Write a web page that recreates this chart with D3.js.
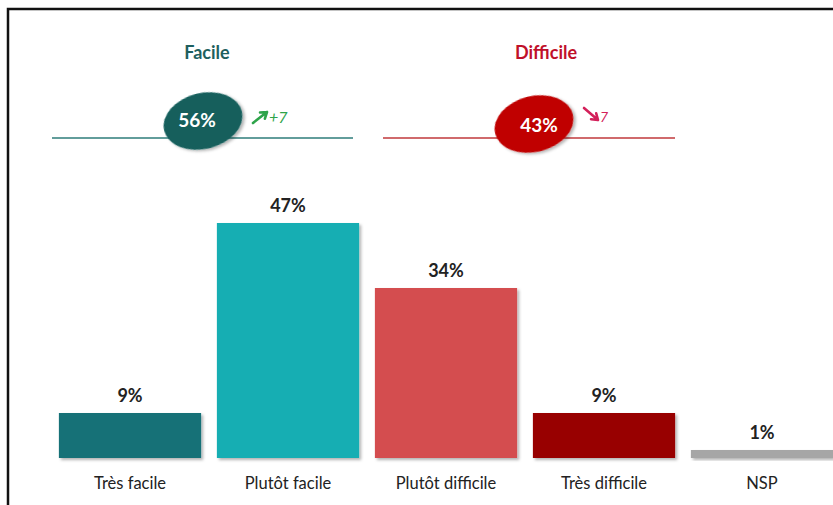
<!DOCTYPE html>
<html>
<head>
<meta charset="utf-8">
<script src="https://cdn.jsdelivr.net/npm/d3@7"></script>
<style>
  body { margin: 0; background: #fff; }
  text { font-family: Lato, "Open Sans", sans-serif; }
</style>
</head>
<body>
<div id="vizContainer"></div>
<script>
let w = 833;
let h = 505;

// data
let categories = ["Très facile", "Plutôt facile", "Plutôt difficile", "Très difficile", "NSP"];
let values = [9, 47, 34, 9, 1];
let groupNames = ["Facile", "Difficile"];
let groupTotals = [56, 43];
let groupChanges = [7, -7];

let barColors = ["#137177", "#14aeb3", "#d44e4f", "#980000", "#a6a6a6"];
let groupColors = ["#135f5c", "#c00000"];
let titleColors = ["#1e5f5e", "#c0102a"];
let groupLineColors = ["#2e7d7a", "#c0393b"];
let changeColors = ["#2ea44a", "#d3205a"];

let viz = d3.select("#vizContainer").append("svg")
    .attr("width", w)
    .attr("height", h)
    .style("background-color", "white")
;

// shadow
let defs = viz.append("defs");
let shadow = defs.append("filter").attr("id", "shadow")
    .attr("x", "-20%").attr("y", "-20%").attr("width", "150%").attr("height", "150%");
shadow.append("feDropShadow")
    .attr("dx", 2).attr("dy", 2).attr("stdDeviation", 1.5)
    .attr("flood-color", "#000").attr("flood-opacity", 0.3);

// frame, only top and left visible
viz.append("path")
    .attr("d", "M8,505 L8,9 L833,9")
    .attr("fill", "none")
    .attr("stroke", "#111")
    .attr("stroke-width", 2.5)
;

let xScale = d3.scaleBand()
    .domain(categories)
    .range([51, 841])
    .paddingInner(0.1)
    .paddingOuter(0.05)
;
let yScale = d3.scaleLinear().domain([0, 50]).range([458, 208]);
let minBar = 8; // the tiny NSP bar is drawn a bit thicker in the original

function barTop(d){
  return Math.min(yScale(d), yScale(0) - minBar);
}

let bars = viz.append("g").attr("class", "bars");
bars.selectAll(".bar").data(values).enter()
  .append("rect")
    .attr("class", "bar")
    .attr("x", (d, i) => xScale(categories[i]))
    .attr("y", d => barTop(d))
    .attr("width", xScale.bandwidth())
    .attr("height", d => yScale(0) - barTop(d))
    .attr("fill", (d, i) => barColors[i])
    .attr("filter", "url(#shadow)")
;
bars.selectAll(".valueLabel").data(values).enter()
  .append("text")
    .attr("class", "valueLabel")
    .attr("x", (d, i) => xScale(categories[i]) + xScale.bandwidth()/2)
    .attr("y", d => barTop(d) - 11)
    .attr("text-anchor", "middle")
    .attr("font-size", 18)
    .attr("font-weight", "bold")
    .attr("fill", "#222")
    .text(d => d + "%")
;
bars.selectAll(".catLabel").data(categories).enter()
  .append("text")
    .attr("class", "catLabel")
    .attr("x", d => xScale(d) + xScale.bandwidth()/2)
    .attr("y", 489)
    .attr("text-anchor", "middle")
    .attr("font-size", 16.5)
    .attr("fill", "#222")
    .text(d => d)
;

// summary blocks above the bars
let groupX = d3.scaleOrdinal().domain(groupNames).range([203, 534]);
let lineExtent = [[52, 353], [383, 675]];

groupNames.forEach((g, i) => {
  let cx = groupX(g);
  let block = viz.append("g").attr("class", "group");

  block.append("text")
    .attr("x", cx + (i == 0 ? 4 : 12))
    .attr("y", 59)
    .attr("text-anchor", "middle")
    .attr("font-size", 18)
    .attr("font-weight", "bold")
    .attr("fill", titleColors[i])
    .text(g)
  ;
  block.append("line")
    .attr("x1", lineExtent[i][0])
    .attr("x2", lineExtent[i][1])
    .attr("y1", 138)
    .attr("y2", 138)
    .attr("stroke", groupLineColors[i])
    .attr("stroke-width", 1.3)
  ;
  let cy = i == 0 ? 121 : 124;
  block.append("ellipse")
    .attr("cx", cx)
    .attr("cy", cy)
    .attr("rx", 40)
    .attr("ry", 28)
    .attr("transform", "rotate(-14," + cx + "," + cy + ")")
    .attr("fill", groupColors[i])
    .attr("filter", "url(#shadow)")
  ;
  block.append("text")
    .attr("x", cx + (i == 0 ? -6 : 5))
    .attr("y", i == 0 ? 127 : 132)
    .attr("text-anchor", "middle")
    .attr("font-size", 19)
    .attr("font-weight", "bold")
    .attr("fill", "white")
    .text(groupTotals[i] + "%")
  ;

  // trend arrow + change
  let ch = groupChanges[i];
  let ax = cx + 50;
  let up = ch > 0;
  let x0 = ax, y0 = up ? 123 : 108;
  let x1 = ax + 14, y1 = up ? 112 : 120;
  let ang = Math.atan2(y1 - y0, x1 - x0);
  let head = 7;
  let hx1 = x1 - head*Math.cos(ang - 0.6), hy1 = y1 - head*Math.sin(ang - 0.6);
  let hx2 = x1 - head*Math.cos(ang + 0.6), hy2 = y1 - head*Math.sin(ang + 0.6);
  block.append("path")
    .attr("d", "M"+x0+","+y0+" L"+x1+","+y1+" M"+hx1+","+hy1+" L"+x1+","+y1+" L"+hx2+","+hy2)
    .attr("fill", "none")
    .attr("stroke", changeColors[i])
    .attr("stroke-width", 2.6)
    .attr("stroke-linecap", "round")
    .attr("stroke-linejoin", "round")
  ;
  block.append("text")
    .attr("x", ax + 16)
    .attr("y", up ? 123 : 122)
    .attr("font-size", up ? 16 : 14)
    .attr("font-style", "italic")
    .attr("fill", changeColors[i])
    .text((up ? "+" : "") + Math.abs(ch))
  ;
});
</script>
</body>
</html>
